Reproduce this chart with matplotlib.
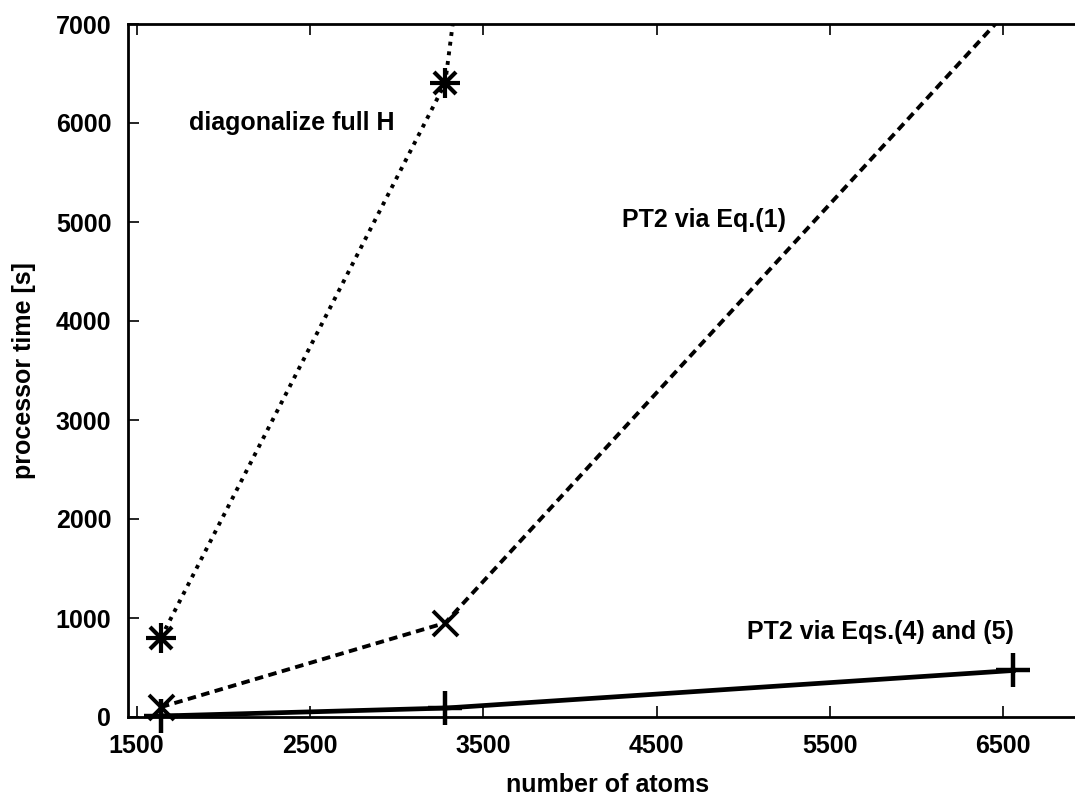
import numpy as np
import matplotlib
matplotlib.use("Agg")
import matplotlib.pyplot as plt

# --- données ---
atoms = [1640, 3280, 6560]
t_diag = [800, 6400, 51200]      # diagonalize full H
t_eq1 = [100, 950, 7200]         # PT2 via Eq.(1)
t_eq45 = [10, 90, 470]           # PT2 via Eqs.(4) and (5)

xticks = [1500, 2500, 3500, 4500, 5500, 6500]
yticks = [0, 1000, 2000, 3000, 4000, 5000, 6000, 7000]

plt.rcParams["font.family"] = ["Liberation Sans", "DejaVu Sans"]
plt.rcParams["font.weight"] = "bold"
FS = 18

fig = plt.figure(figsize=(10.75, 7.96), dpi=100)
ax = fig.add_axes([128 / 1075, 79 / 796, 960 / 1075, 693 / 796])

# courbe 1 : diagonalisation complète (pointillés + astérisques)
ax.plot(atoms, t_diag, color="black", lw=2.8, linestyle=(0, (1, 1.5)), zorder=2)
ax.plot(atoms, t_diag, color="black", linestyle="none", marker="+", ms=22, mew=3, zorder=3, clip_on=False)
ax.plot(atoms, t_diag, color="black", linestyle="none", marker="x", ms=16, mew=3, zorder=3, clip_on=False)

# courbe 2 : PT2 via Eq.(1) (tirets + croix)
ax.plot(atoms, t_eq1, color="black", lw=2.8, linestyle=(0, (2.2, 1.4)), zorder=2)
ax.plot(atoms[:2], t_eq1[:2], color="black", linestyle="none", marker="x", ms=18, mew=2.8, zorder=3, clip_on=False)

# courbe 3 : PT2 via Eqs.(4) et (5) (trait plein + plus)
ax.plot(atoms, t_eq45, color="black", lw=3.4, zorder=2)
ax.plot(atoms, t_eq45, color="black", linestyle="none", marker="+", ms=24, mew=3.2, zorder=3, clip_on=False)

ax.set_xlim(1450, 6990)
ax.set_ylim(0, 7000)
ax.set_xticks(xticks)
ax.set_yticks(yticks)
ax.tick_params(direction="in", length=8, width=1.2, top=True, right=False,
               labelsize=FS, pad=12)
for lab in ax.get_xticklabels() + ax.get_yticklabels():
    lab.set_fontweight("bold")
for s in ["left", "bottom", "top"]:
    ax.spines[s].set_linewidth(2)
ax.spines["right"].set_visible(False)

ax.set_xlabel("number of atoms", fontsize=FS, fontweight="bold")
ax.set_ylabel("processor time [s]", fontsize=FS, fontweight="bold")
ax.xaxis.set_label_coords(0.5, -0.081)
ax.yaxis.set_label_coords(-0.096, 0.5)

ax.text(1800, 6000, "diagonalize full H", fontsize=FS, fontweight="bold", va="center", ha="left")
ax.text(4300, 5020, "PT2 via Eq.(1)", fontsize=FS, fontweight="bold", va="center", ha="left")
ax.text(6560, 860, "PT2 via Eqs.(4) and (5)", fontsize=FS, fontweight="bold", va="center", ha="right")

fig.savefig("out.png", dpi=100)
